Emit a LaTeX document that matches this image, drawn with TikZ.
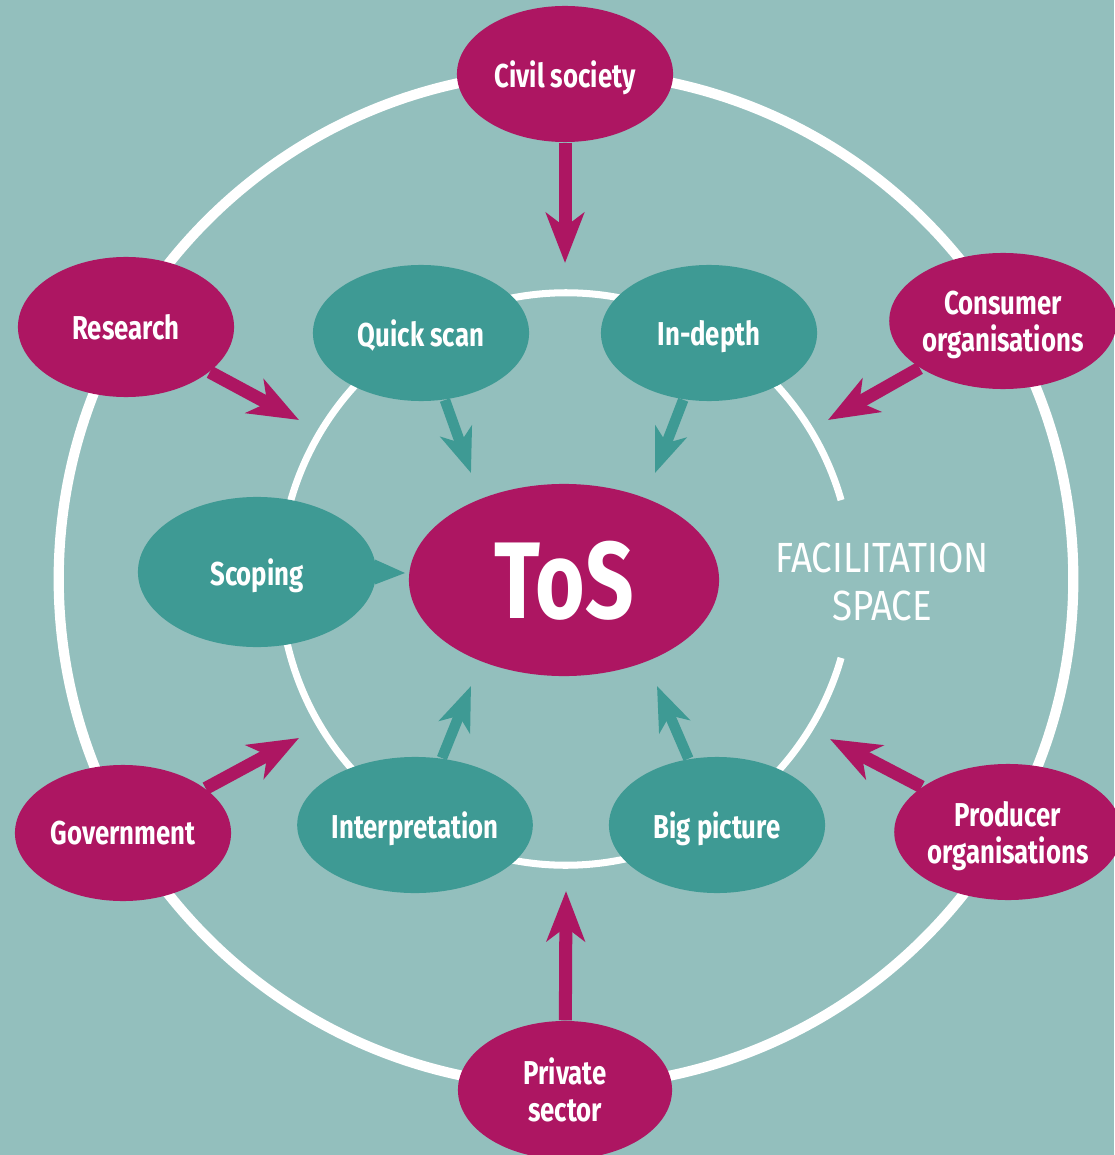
\documentclass[tikz,border=0pt]{standalone}
\usepackage{fontspec}
\setmainfont{Fira Sans}[FakeStretch=0.78]
\newfontfamily\facfont{Fira Sans}[FakeStretch=0.87]
\usetikzlibrary{shapes.geometric,arrows.meta}
\definecolor{hgrund}{RGB}{147,191,189}
\definecolor{petrol}{RGB}{62,154,148}
\definecolor{tosrot}{RGB}{173,22,98}

\begin{document}
\begin{tikzpicture}[x=0.01cm,y=-0.01cm,
  akteur/.style={ellipse, fill=tosrot, text=white, inner sep=0pt, minimum width=2.16cm, minimum height=1.36cm, align=center, text depth=0pt, font=\bfseries\fontsize{9.4}{10.5}\selectfont},
  methode/.style={ellipse, fill=petrol, text=white, inner sep=0pt, minimum width=2.16cm, minimum height=1.36cm, align=center, text depth=0pt, font=\bfseries\fontsize{9.4}{10.5}\selectfont},
  rotpfeil/.style={draw=tosrot, line width=3.7pt, -{Stealth[length=0.5cm, width=0.38cm, inset=0.14cm]}},
  petrolpfeil/.style={draw=petrol, line width=3pt, -{Stealth[length=0.44cm, width=0.33cm, inset=0.12cm]}}]
%Hintergrund
\useasboundingbox (0,0) rectangle (1114,1155);
\fill[hgrund] (0,0) rectangle (1114,1155);

%Kreise (zuerst, damit die Ellipsen drüberliegen)
\coordinate (mitte) at (566,579);
\draw[white, line width=2.9pt] (mitte) circle [radius=5.07cm];
\draw[white, line width=2pt] (mitte) ++(16:2.86cm) arc [start angle=16, end angle=344, radius=2.86cm];

%Zentrum
\node[akteur, minimum width=3.1cm, minimum height=1.92cm, font=\bfseries\fontsize{31}{31}\selectfont] (tos) at (564,580) {ToS};
\node[text=white, align=center, font=\facfont\fontsize{12}{13.4}\selectfont] (facil) at (882,582) {FACILITATION\\SPACE};

%Akteure außen
\node[akteur] (civil) at (565,74) {Civil society};
\node[akteur, minimum height=1.4cm] (research) at (126,327) {Research};
\node[akteur] (consumer) at (1003,321) {Consumer\\organisations};
\node[akteur] (government) at (123,833) {Government};
\node[akteur] (producer) at (1008,832) {Producer\\organisations};
\node[akteur, minimum width=2.14cm, minimum height=1.38cm] (private) at (565,1090) {Private\\sector};

%Methoden innen
\node[methode] (quick) at (421,333) {Quick scan};
\node[methode] (depth) at (709,333) {In-depth};
\node[methode, minimum width=2.38cm, minimum height=1.5cm] (scoping) at (257,572) {Scoping};
\node[methode] (interp) at (415,825) {Interpretation};
\node[methode] (big) at (717,825) {Big picture};

%Spitze der Sprechblase
\coordinate (scopTip) at (405,573);
\fill[petrol] (scoping.6) -- (scopTip) -- (scoping.-6) -- cycle;

%Pfeilspitzen
\coordinate (civilTip) at (565,263);
\coordinate (resTip) at (299,420);
\coordinate (consTip) at (828,420);
\coordinate (govTip) at (299,738);
\coordinate (prodTip) at (830,739);
\coordinate (privTip) at (566,891);
\coordinate (quickTip) at (471,473);
\coordinate (depthTip) at (655,473);
\coordinate (interTip) at (471,686);
\coordinate (bigTip) at (657,686);

%Pfeile
\draw[rotpfeil] (civil) -- (civilTip);
\draw[rotpfeil] (research) -- (resTip);
\draw[rotpfeil] (consumer) -- (consTip);
\draw[rotpfeil] (government) -- (govTip);
\draw[rotpfeil] (producer) -- (prodTip);
\draw[rotpfeil] (private) -- (privTip);
\draw[petrolpfeil] (quick) -- (quickTip);
\draw[petrolpfeil] (depth) -- (depthTip);
\draw[petrolpfeil] (interp) -- (interTip);
\draw[petrolpfeil] (big) -- (bigTip);

\end{tikzpicture}
\end{document}
